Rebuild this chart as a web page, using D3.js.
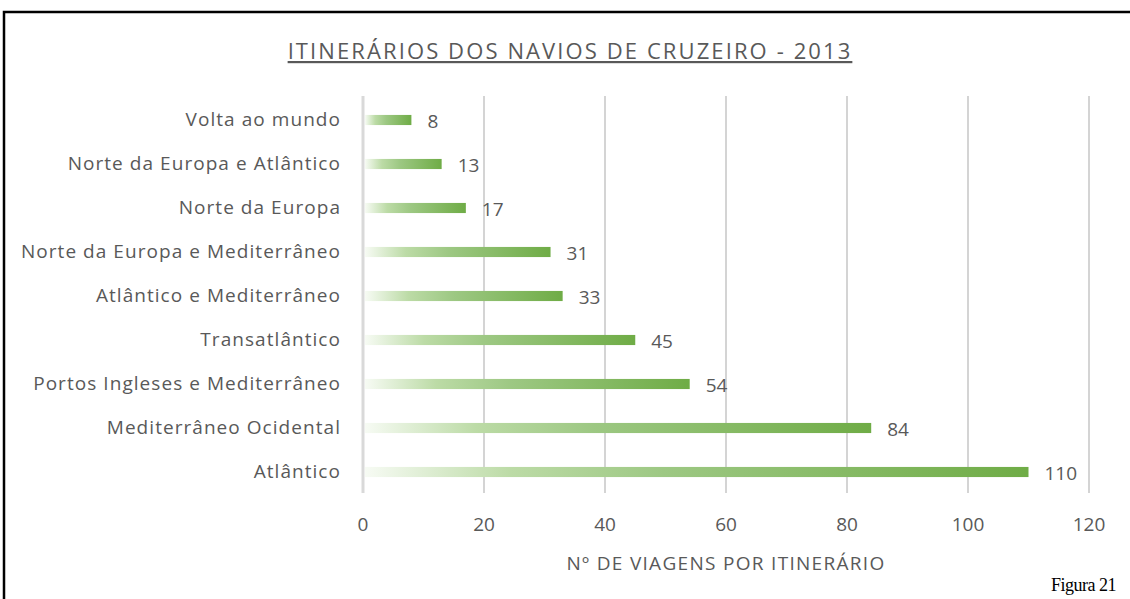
<!DOCTYPE html>
<html>
<head>
<meta charset="utf-8">
<script src="https://cdn.jsdelivr.net/npm/d3@7"></script>
<style>
  body { margin: 0; background: #fff; }
  text { font-family: "Open Sans", Lato, sans-serif; fill: #595959; }
</style>
</head>
<body>
<div id="chart"></div>
<script>
const categories = ["Volta ao mundo", "Norte da Europa e Atlântico", "Norte da Europa",
  "Norte da Europa e Mediterrâneo", "Atlântico e Mediterrâneo", "Transatlântico",
  "Portos Ingleses e Mediterrâneo", "Mediterrâneo Ocidental", "Atlântico"]
const values = [8, 13, 17, 31, 33, 45, 54, 84, 110]
const xTicks = [0, 20, 40, 60, 80, 100, 120]
const title = "ITINERÁRIOS DOS NAVIOS DE CRUZEIRO - 2013"
const xTitle = "Nº DE VIAGENS POR ITINERÁRIO"

const svg = d3.select("#chart")
              .append("svg")
              .attr("width", 1130)
              .attr("height", 599)

// frame
svg.append("path")
   .attr("d", "M4,600 V12 H1140")
   .attr("fill", "none")
   .attr("stroke", "black")
   .attr("stroke-width", 2.5)

const x = d3.scaleLinear().domain([0, 120]).range([363, 1089])
const y = d3.scaleBand().domain(categories).range([98, 494]).paddingInner(0.77).paddingOuter(0.385)

const grad = svg.append("defs").append("linearGradient")
                .attr("id", "barfill")
                .attr("x1", "0").attr("x2", "1").attr("y1", "0").attr("y2", "0")
grad.selectAll("stop")
    .data([[0, "#f7fbf4"], [0.22, "#bcdba6"], [0.45, "#9dc883"], [1, "#6fac46"]])
    .enter().append("stop")
    .attr("offset", d => d[0])
    .attr("stop-color", d => d[1])

// gridlines
svg.append("g")
   .selectAll("line")
   .data(xTicks.slice(1))
   .enter().append("line")
   .attr("x1", d => x(d)).attr("x2", d => x(d))
   .attr("y1", 96).attr("y2", 493)
   .attr("stroke", "#c6c6c6")
   .attr("stroke-width", 1.5)

svg.append("g")
   .selectAll("rect")
   .data(values)
   .enter().append("rect")
   .attr("x", x(0) + 2)
   .attr("y", (d, i) => y(categories[i]))
   .attr("width", d => x(d) - x(0) - 2)
   .attr("height", y.bandwidth())
   .attr("fill", "url(#barfill)")

// zero line
svg.append("line")
   .attr("x1", x(0)).attr("x2", x(0))
   .attr("y1", 96).attr("y2", 493)
   .attr("stroke", "#d9d9d9")
   .attr("stroke-width", 3)

// value labels
svg.append("g")
   .selectAll("text")
   .data(values)
   .enter().append("text")
   .attr("x", d => x(d) + 16)
   .attr("y", (d, i) => y(categories[i]) + y.bandwidth() / 2 + 8)
   .attr("font-size", 19)
   .text(d => d)

// category labels
svg.append("g")
   .selectAll("text")
   .data(categories)
   .enter().append("text")
   .attr("x", 341)
   .attr("y", d => y(d) + y.bandwidth() / 2 + 6)
   .attr("text-anchor", "end")
   .attr("font-size", 19)
   .attr("letter-spacing", 1.05)
   .text(d => d)

// x tick labels
svg.append("g")
   .selectAll("text")
   .data(xTicks)
   .enter().append("text")
   .attr("x", d => x(d))
   .attr("y", 531)
   .attr("text-anchor", "middle")
   .attr("font-size", 19)
   .text(d => d)

svg.append("text")
   .attr("x", x(60))
   .attr("y", 570)
   .attr("text-anchor", "middle")
   .attr("font-size", 19)
   .attr("letter-spacing", 1.3)
   .text(xTitle)

svg.append("text")
   .attr("x", 570)
   .attr("y", 59)
   .attr("text-anchor", "middle")
   .attr("font-size", 22)
   .attr("letter-spacing", 2.1)
   .attr("text-decoration", "underline")
   .text(title)

svg.append("text")
   .attr("x", 1116)
   .attr("y", 591)
   .attr("text-anchor", "end")
   .attr("font-size", 18)
   .style("font-family", "'Liberation Serif', serif")
   .style("fill", "#000")
   .style("letter-spacing", "-0.5px")
   .text("Figura 21")
</script>
</body>
</html>
